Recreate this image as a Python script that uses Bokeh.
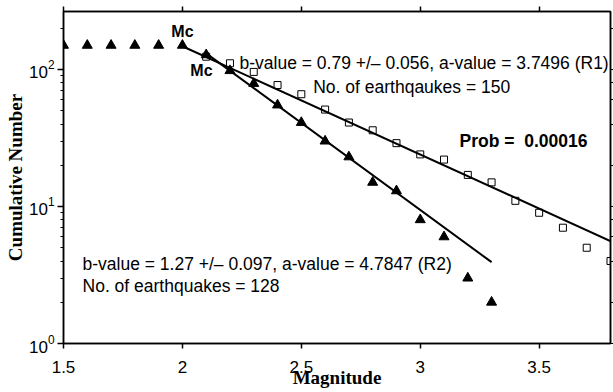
from bokeh.plotting import figure
from bokeh.models import LogAxis, LinearAxis, FixedTicker, LogTicker, Label, Range1d
from bokeh.embed import file_html
from bokeh.resources import INLINE
import numpy as np

# Cumulative frequency-magnitude data, region R2 (filled triangles)
magnitude_r2 = [1.5, 1.6, 1.7, 1.8, 1.9, 2.0, 2.1, 2.2, 2.3, 2.4, 2.5, 2.6, 2.7,
                2.8, 2.9, 3.0, 3.1, 3.2, 3.3]
count_r2 = [150, 150, 150, 150, 150, 150, 128, 98, 79, 55, 41, 30, 23,
            15, 13, 8, 6, 3, 2]

# Cumulative frequency-magnitude data, region R1 (open squares)
magnitude_r1 = [2.1, 2.2, 2.3, 2.4, 2.5, 2.6, 2.7, 2.8, 2.9, 3.0, 3.1, 3.2,
                3.3, 3.4, 3.5, 3.6, 3.7, 3.8]
count_r1 = [124, 111, 96, 77, 66, 51, 41, 36, 29, 24, 22, 17,
            15, 11, 9, 7, 5, 4]

# Gutenberg-Richter fits: log10(N) = a - b*M
b_r1, a_r1 = 0.79, 3.7496
b_r2, a_r2 = 1.27, 4.7847
fit_span_r1 = [2.0, 3.85]
fit_span_r2 = [2.1, 3.3]

x_ticks = [1.5, 2.0, 2.5, 3.0, 3.5]
x_tick_labels = ["1.5", "2", "2.5", "3", "3.5"]

SANS = "Liberation Sans"
SERIF = "Liberation Serif"

p = figure(width=613, height=392, output_backend="svg", toolbar_location=None,
           y_axis_type="log", x_range=Range1d(1.5, 3.8), y_range=Range1d(1, 265),
           min_border_left=63, min_border_right=3, min_border_top=11,
           min_border_bottom=49)
p.background_fill_color = "white"
p.border_fill_color = "white"
p.outline_line_color = "black"
p.outline_line_width = 1.5
p.xgrid.visible = False
p.ygrid.visible = False

# bottom axis
xa = p.xaxis[0]
xa.ticker = FixedTicker(ticks=x_ticks, minor_ticks=[])
xa.major_label_overrides = {t: s for t, s in zip(x_ticks, x_tick_labels)}
xa.axis_label = "Magnitude"
xa.axis_label_text_font = SERIF
xa.axis_label_text_font_style = "bold"
xa.axis_label_text_font_size = "19px"
xa.axis_label_text_color = "black"
xa.axis_label_standoff = -9
xa.major_label_text_font = SANS
xa.major_label_text_font_size = "17px"
xa.major_label_text_color = "black"
xa.major_label_standoff = 12
xa.major_tick_out = 5
xa.major_tick_in = 0
xa.axis_line_width = 1.5
xa.major_tick_line_width = 1.5

# left axis
ya = p.yaxis[0]
ya.axis_label = "Cumulative Number"
ya.axis_label_text_font = SERIF
ya.axis_label_text_font_style = "bold"
ya.axis_label_text_font_size = "19px"
ya.axis_label_text_color = "black"
ya.axis_label_standoff = 0
ya.major_label_text_font = SANS
ya.major_label_text_font_size = "17px"
ya.major_label_text_color = "black"
ya.major_label_standoff = 3
ya.major_tick_out = 6
ya.major_tick_in = 0
ya.minor_tick_out = 3
ya.minor_tick_in = 0
ya.axis_line_width = 1.5
ya.major_tick_line_width = 1.5

# mirrored ticks on the top and right edges (labels hidden)
top = LinearAxis(ticker=FixedTicker(ticks=x_ticks, minor_ticks=[]),
                 major_label_text_font_size="1px", major_label_text_color=None,
                 major_label_standoff=0,
                 major_tick_out=5, major_tick_in=0, axis_line_width=1.5,
                 major_tick_line_width=1.5)
p.add_layout(top, "above")
right = LogAxis(ticker=LogTicker(), major_label_text_font_size="1px",
                major_label_text_color=None,
                major_label_standoff=0, major_tick_out=3, major_tick_in=0,
                minor_tick_out=3, minor_tick_in=0, axis_line_width=1.5)
p.add_layout(right, "right")

# fitted lines
m1 = np.array(fit_span_r1)
p.line(m1, 10 ** (a_r1 - b_r1 * m1), line_color="black", line_width=2)
m2 = np.array(fit_span_r2)
p.line(m2, 10 ** (a_r2 - b_r2 * m2), line_color="black", line_width=2)

# data points
p.scatter(magnitude_r1, count_r1, marker="square", size=7, fill_color=None,
          line_color="black", line_width=1)
p.scatter(magnitude_r2, count_r2, marker="triangle", size=10, fill_color="black",
          line_color="black")

def note(x, y, text, bold=False, align="left", size="17.5px"):
    p.add_layout(Label(x=x, y=y, text=text, text_font=SANS,
                       text_font_size=size,
                       text_font_style="bold" if bold else "normal",
                       text_align=align, text_baseline="middle",
                       text_color="black"))

note(2.0, 190, "Mc", bold=True, align="center", size="16px")
note(2.08, 98, "Mc", bold=True, align="center", size="16px")
note(2.24, 112, "b-value = 0.79 +/\u2013 0.056, a-value = 3.7496 (R1)")
note(2.55, 74, "No. of earthqaukes = 150")
note(3.165, 30.3, "Prob =\u00a0 0.00016", bold=True)
note(1.58, 3.82, "b-value = 1.27 +/\u2013 0.097, a-value = 4.7847 (R2)")
note(1.58, 2.65, "No. of earthquakes = 128")

open("out.html", "w").write(file_html(p, INLINE))
